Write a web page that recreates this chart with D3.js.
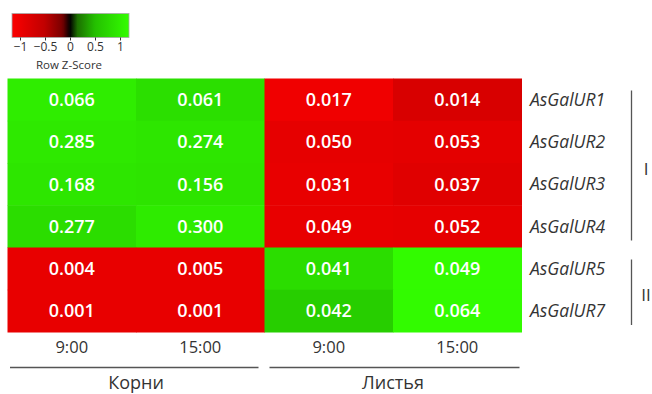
<!DOCTYPE html>
<html>
<head>
<meta charset="utf-8">
<script src="https://cdn.jsdelivr.net/npm/d3@7"></script>
<style>
  body { margin: 0; background: #fff; }
  svg text { font-family: "Open Sans", sans-serif; }
</style>
</head>
<body>
<svg id="chart" width="652" height="394"></svg>
<script>
// data
var genes = ['AsGalUR1', 'AsGalUR2', 'AsGalUR3', 'AsGalUR4', 'AsGalUR5', 'AsGalUR7'];
var times = ['9:00', '15:00', '9:00', '15:00'];
var tissues = ['Корни', 'Листья'];
var values = [
    ['0.066', '0.061', '0.017', '0.014'],
    ['0.285', '0.274', '0.050', '0.053'],
    ['0.168', '0.156', '0.031', '0.037'],
    ['0.277', '0.300', '0.049', '0.052'],
    ['0.004', '0.005', '0.041', '0.049'],
    ['0.001', '0.001', '0.042', '0.064']
];
// row z-scores
var zscores = [
    [1.00, 0.84, -1.03, -0.77],
    [0.95, 0.92, -0.92, -0.90],
    [0.92, 0.90, -0.94, -0.86],
    [0.82, 0.98, -0.94, -0.92],
    [-0.94, -0.94, 0.82, 1.15],
    [-0.94, -0.94, 0.66, 1.15]
];
var clusters = [
    {name: 'I', first: 0, last: 3},
    {name: 'II', first: 4, last: 5}
];
var legendTicks = [-1, -0.5, 0, 0.5, 1];

var svg = d3.select('#chart');

var color = d3.scaleLinear()
    .domain([-1.2, -0.5, -0.15, 0, 0.15, 0.5, 1.2])
    .range(['#ff0000', '#c00000', '#780000', '#000000', '#1c7000', '#24c000', '#33ff00'])
    .clamp(true);

var x = d3.scaleBand().domain(d3.range(times.length)).range([7.5, 521.5]);
var y = d3.scaleBand().domain(d3.range(genes.length)).range([78.5, 332]);

// cells
var cells = [];
values.forEach(function (row, i) {
    row.forEach(function (v, j) {
        cells.push({row: i, col: j, label: v, z: zscores[i][j]});
    });
});

var g = svg.append('g');
g.selectAll('rect.cell')
    .data(cells)
    .enter().append('rect')
    .attr('class', 'cell')
    .attr('x', function (d) { return x(d.col); })
    .attr('y', function (d) { return y(d.row); })
    .attr('width', x.bandwidth() + 0.5)
    .attr('height', y.bandwidth() + 0.5)
    .attr('fill', function (d) { return color(d.z); });

g.selectAll('text.val')
    .data(cells)
    .enter().append('text')
    .attr('class', 'val')
    .attr('x', function (d) { return x(d.col) + x.bandwidth() / 2; })
    .attr('y', function (d) { return y(d.row) + y.bandwidth() / 2; })
    .attr('dy', '0.36em')
    .attr('text-anchor', 'middle')
    .attr('fill', '#fff')
    .style('font-size', '18px')
    .style('font-weight', 600)
    .text(function (d) { return d.label; });

// gene labels
svg.selectAll('text.gene')
    .data(genes)
    .enter().append('text')
    .attr('class', 'gene')
    .attr('x', 530)
    .attr('y', function (d, i) { return y(i) + y.bandwidth() / 2; })
    .attr('dy', '0.36em')
    .attr('fill', '#333')
    .style('font-size', '17.5px')
    .style('font-style', 'italic')
    .text(function (d) { return d; });

// cluster brackets
var cl = svg.selectAll('g.cluster')
    .data(clusters)
    .enter().append('g')
    .attr('class', 'cluster');
cl.append('line')
    .attr('x1', 631.5).attr('x2', 631.5)
    .attr('y1', function (d) { return y(d.first) + 12; })
    .attr('y2', function (d) { return y(d.last) + y.bandwidth() - 7; })
    .attr('stroke', '#555')
    .attr('stroke-width', 1.3);
cl.append('text')
    .attr('x', 646)
    .attr('y', function (d) { return (y(d.first) + 12 + y(d.last) + y.bandwidth() - 7) / 2 + 3; })
    .attr('dy', '0.36em')
    .attr('text-anchor', 'middle')
    .attr('fill', '#333')
    .style('font-size', '17px')
    .text(function (d) { return d.name; });

// time labels
svg.selectAll('text.time')
    .data(times)
    .enter().append('text')
    .attr('class', 'time')
    .attr('x', function (d, i) { return x(i) + x.bandwidth() / 2; })
    .attr('y', 347)
    .attr('dy', '0.36em')
    .attr('text-anchor', 'middle')
    .attr('fill', '#333')
    .style('font-size', '16.5px')
    .text(function (d) { return d; });

// tissue groups
var tg = svg.selectAll('g.tissue')
    .data(tissues)
    .enter().append('g')
    .attr('class', 'tissue');
tg.append('line')
    .attr('x1', function (d, i) { return x(i * 2) + (i ? 5 : 2.5); })
    .attr('x2', function (d, i) { return x(i * 2 + 1) + x.bandwidth() - (i ? 2 : 6); })
    .attr('y1', 367.5).attr('y2', 367.5)
    .attr('stroke', '#555')
    .attr('stroke-width', 1.3);
tg.append('text')
    .attr('x', function (d, i) { return x(i * 2 + 1); })
    .attr('y', 389)
    .attr('text-anchor', 'middle')
    .attr('fill', '#333')
    .style('font-size', '18px')
    .text(function (d) { return d; });

// colour key
var lx = d3.scaleLinear().domain([-1, 1]).range([20, 120]);
var defs = svg.append('defs');
var grad = defs.append('linearGradient').attr('id', 'key');
var kd = [lx.invert(12), lx.invert(129)];
d3.range(0, 1.0001, 0.02).forEach(function (t) {
    grad.append('stop')
        .attr('offset', t)
        .attr('stop-color', color(kd[0] + t * (kd[1] - kd[0])));
});
svg.append('rect')
    .attr('x', 12).attr('y', 13.5)
    .attr('width', 117).attr('height', 24)
    .attr('fill', 'url(#key)')
    .attr('stroke', '#aaa')
    .attr('stroke-width', 0.8);

var axis = d3.axisBottom(lx)
    .tickValues(legendTicks)
    .tickSize(3)
    .tickFormat(function (d) { return d === 0 ? '0' : d3.format('')(d).replace('-', '\u2212'); });
var ax = svg.append('g')
    .attr('transform', 'translate(0,37.5)')
    .call(axis);
ax.select('.domain').remove();
ax.selectAll('line').attr('stroke', '#333');
ax.selectAll('text')
    .attr('fill', '#333')
    .attr('y', 5)
    .style('font-size', '12px');
svg.append('text')
    .attr('x', 69)
    .attr('y', 65)
    .attr('dy', '0.36em')
    .attr('text-anchor', 'middle')
    .attr('fill', '#333')
    .style('font-size', '11.5px')
    .text('Row Z-Score');
</script>
</body>
</html>
